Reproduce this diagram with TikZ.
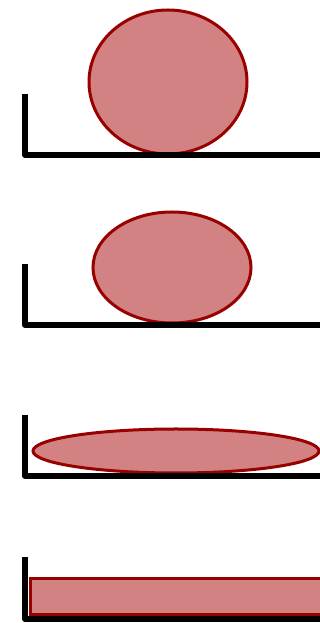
\documentclass[tikz,border=0pt]{standalone}
\usepackage{tikz}
\definecolor{dropedge}{RGB}{153,0,0}
\definecolor{dropfill}{RGB}{210,130,130}

\begin{document}
\begin{tikzpicture}[
    x=1pt, y=1pt,
    wall/.style={draw=black, line width=6pt, line join=round},
    drop/.style={draw=dropedge, fill=dropfill, line width=3pt}
]
\useasboundingbox (0,0) rectangle (320,623);
\clip (0,0) rectangle (320,623);
% sphere resting on the surface
\draw[drop] (168,541) ellipse [x radius=79, y radius=72];
\draw[wall] (25,529) -- (25,468) -- (330,468);
% slightly flattened drop
\draw[drop] (172,355.5) ellipse [x radius=79, y radius=55.5];
\draw[wall] (25,359) -- (25,298) -- (330,298);
% strongly spread drop
\draw[drop] (176,172) ellipse [x radius=143, y radius=22];
\draw[wall] (25,208) -- (25,147) -- (330,147);
% completely wetting film
\draw[drop] (30,8) rectangle (330,44.5);
\draw[wall] (25,66) -- (25,4) -- (330,4);
\end{tikzpicture}
\end{document}
